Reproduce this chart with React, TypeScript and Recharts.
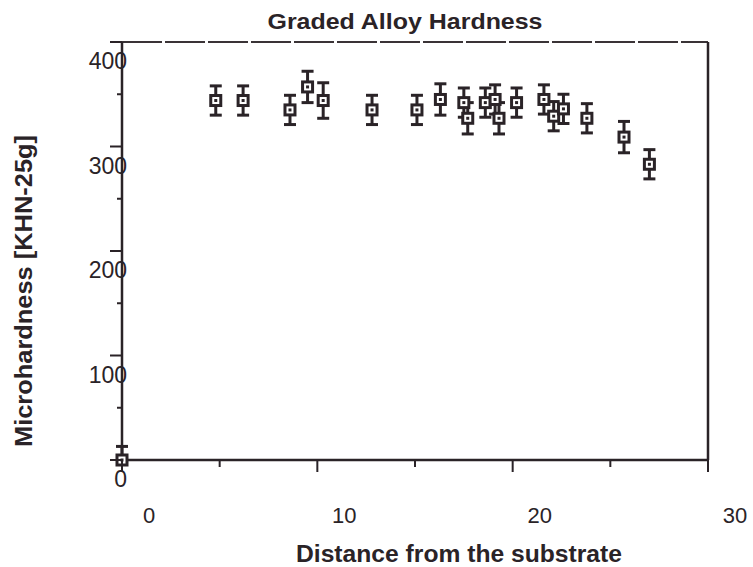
import { ScatterChart, Scatter, XAxis, YAxis, ErrorBar, ReferenceLine } from "recharts";

const distance = [0, 4.8, 6.2, 8.6, 9.5, 10.3, 12.8, 15.1, 16.3, 17.5, 17.7, 18.6, 19.1, 19.3, 20.2, 21.6, 22.1, 22.6, 23.8, 25.7, 27.0];
const hardness = [0, 344, 344, 335, 357, 344, 335, 335, 345, 342, 327, 342, 345, 327, 342, 345, 329, 336, 327, 309, 283];
// lower bar of the first point sits below the x axis (hidden under the "0"), so it is kept at 0
const errLow = [0, 14, 14, 14, 15, 17, 14, 14, 15, 14, 15, 14, 14, 15, 14, 14, 14, 14, 14, 15, 14];
const errHigh = [13, 14, 14, 14, 15, 17, 14, 14, 15, 14, 15, 14, 14, 15, 14, 14, 14, 14, 14, 15, 14];

const xTicks = [0, 5, 10, 15, 20, 25, 30];
const yTicks = [0, 50, 100, 150, 200, 250, 300, 350, 400];

const points = distance.map((d, i) => ({ x: d, y: hardness[i], err: [errLow[i], errHigh[i]] }));

const INK = "#2a2327";
const FONT = "'Liberation Sans', Arial, Helvetica, sans-serif";

function XTick({ x, y, payload }: any) {
  const major = payload.value % 10 === 0;
  return (
    <g>
      <line x1={x} x2={x} y1={y} y2={y + (major ? 12 : 7)} stroke={INK} strokeWidth={2} />
      {major && (
        <text x={x + 27} y={y + 63} textAnchor="middle" fontSize={22} fontFamily={FONT} fill={INK}>
          {payload.value}
        </text>
      )}
    </g>
  );
}

function YTick({ x, y, payload }: any) {
  const major = payload.value % 100 === 0;
  return (
    <g>
      <line x1={x} x2={x - (major ? 12 : 5)} y1={y} y2={y} stroke={INK} strokeWidth={2} />
      {major && (
        <text x={x + 5} y={y + 27} textAnchor="end" fontSize={23} fontFamily={FONT} fill={INK}>
          {payload.value}
        </text>
      )}
    </g>
  );
}

function Marker({ cx, cy }: any) {
  return (
    <g>
      <rect x={cx - 5} y={cy - 5} width={10} height={10} fill="#fff" stroke={INK} strokeWidth={3} />
      <rect x={cx - 1.5} y={cy - 1.5} width={3} height={3} fill={INK} />
    </g>
  );
}

export default function App() {
  return (
    <div style={{ position: "absolute", left: 0, top: 0, background: "#fff" }}>
      <ScatterChart width={753} height={567} margin={{ top: 42, right: 45, left: 0, bottom: 0 }}>
        <XAxis
          type="number"
          dataKey="x"
          domain={[0, 30]}
          ticks={xTicks}
          height={107}
          tickSize={0}
          tickMargin={0}
          tickLine={false}
          tick={<XTick />}
          axisLine={{ stroke: INK, strokeWidth: 2.5 }}
          label={{
            content: ({ viewBox }: any) => (
              <text
                x={viewBox.x + viewBox.width / 2 + 44}
                y={562}
                textAnchor="middle"
                fontSize={23}
                fontWeight="bold"
                fontFamily={FONT}
                fill={INK}
                textLength={326}
                lengthAdjust="spacingAndGlyphs"
              >
                Distance from the substrate
              </text>
            ),
          }}
        />
        <YAxis
          type="number"
          dataKey="y"
          domain={[0, 400]}
          ticks={yTicks}
          width={122}
          tickSize={0}
          tickMargin={0}
          tickLine={false}
          tick={<YTick />}
          axisLine={{ stroke: INK, strokeWidth: 2.5 }}
          label={{
            content: ({ viewBox }: any) => {
              const cx = 24;
              const cy = viewBox.y + viewBox.height / 2 + 40;
              return (
                <text
                  x={cx}
                  y={cy}
                  transform={`rotate(-90, ${cx}, ${cy})`}
                  dy={8}
                  textAnchor="middle"
                  fontSize={23}
                  fontWeight="bold"
                  fontFamily={FONT}
                  fill={INK}
                  textLength={312}
                  lengthAdjust="spacingAndGlyphs"
                >
                  Microhardness [KHN-25g]
                </text>
              );
            },
          }}
        />
        <ReferenceLine
          y={400}
          stroke="#3a3336"
          strokeWidth={2}
          strokeDasharray="40 3"
          label={{
            content: ({ viewBox }: any) => (
              <text
                x={viewBox.x + viewBox.width / 2 - 10}
                y={29}
                textAnchor="middle"
                fontSize={22}
                fontWeight="bold"
                fontFamily={FONT}
                fill={INK}
                textLength={275}
                lengthAdjust="spacingAndGlyphs"
              >
                Graded Alloy Hardness
              </text>
            ),
          }}
        />
        <ReferenceLine x={30} stroke={INK} strokeWidth={2.5} />
        <Scatter data={points} shape={<Marker />} isAnimationActive={false}>
          <ErrorBar dataKey="err" direction="y" width={6} stroke={INK} strokeWidth={3} isAnimationActive={false} />
        </Scatter>
      </ScatterChart>
    </div>
  );
}
